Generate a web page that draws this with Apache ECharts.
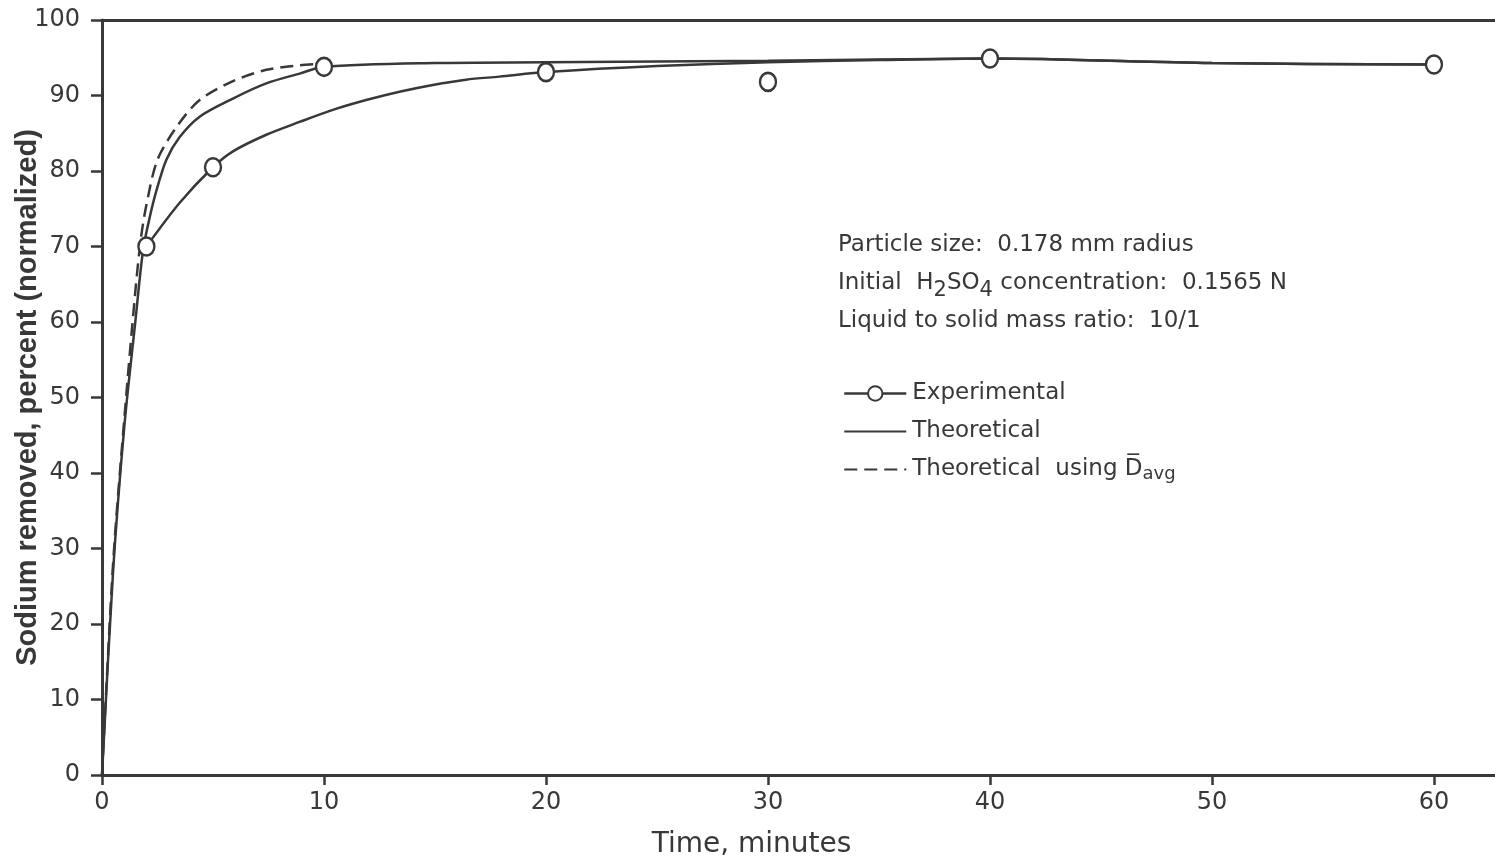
<!DOCTYPE html>
<html>
<head>
<meta charset="utf-8">
<script src="https://cdn.jsdelivr.net/npm/echarts@6/dist/echarts.min.js"></script>
<style>
html,body{margin:0;padding:0;background:#fff;}
#chart{width:1495px;height:861px;}
</style>
</head>
<body>
<div id="chart"></div>
<script>
// Experimental data points (time in minutes, sodium removed %)
const expTime = [2, 5, 10, 20, 30, 40, 60];
const expValue = [70, 80.5, 93.8, 93.1, 91.8, 94.9, 94.1];

// Curve drawn through the experimental data
const expFitTime = [2, 3.5, 5, 5.9, 7.4, 8.9, 10.4, 11.9, 13.4, 14.9, 16.4, 17.9, 20, 25, 30, 35, 40, 50, 60];
const expFitValue = [70, 75.8, 80.5, 82.6, 84.8, 86.5, 88.1, 89.4, 90.5, 91.4, 92.1, 92.5, 93.1, 93.9, 94.4, 94.7, 94.9, 94.3, 94.1];

// Theoretical curve
const theoTime = [0, 0.5, 1, 1.5, 1.85, 2.16, 2.46, 2.9, 3.5, 4.4, 5.9, 7.4, 8.9, 10, 15, 20, 30, 40, 50, 60];
const theoValue = [0, 27, 46, 60, 69.5, 74, 77.5, 81.5, 84.5, 87.2, 89.6, 91.6, 92.9, 93.8, 94.3, 94.4, 94.6, 94.9, 94.3, 94.1];

// Theoretical curve using D avg
const avgTime = [0, 0.5, 1, 1.5, 1.75, 2, 2.5, 3.4, 4.4, 5.9, 7.4, 8.9, 10];
const avgValue = [0, 28, 47, 64, 71, 75.5, 81.5, 86, 89.4, 91.9, 93.4, 94, 94.2];

// Axis ticks
const xTicks = [0, 10, 20, 30, 40, 50, 60];
const yTicks = [0, 10, 20, 30, 40, 50, 60, 70, 80, 90, 100];

const ink = '#383838';
const lettering = "'DejaVu Sans', sans-serif";

function pairs(xs, ys) { return xs.map((x, i) => [x, ys[i]]); }

const chart = echarts.init(document.getElementById('chart'), null, {renderer: 'canvas'});
chart.setOption({
  backgroundColor: '#ffffff',
  animation: false,
  grid: {left: 102, top: 20, right: 0, bottom: 86, containLabel: false, outerBoundsMode: 'none'},
  legend: {
    orient: 'vertical',
    left: 838,
    top: 377,
    itemWidth: 62,
    itemHeight: 18,
    itemGap: 15,
    selectedMode: false,
    textStyle: {
      color: ink, fontFamily: lettering, fontSize: 23, padding: [0, 0, 0, 1],
      rich: {
        o: {fontFamily: lettering, fontSize: 23, color: ink},
        s: {fontFamily: lettering, fontSize: 18, color: ink, padding: [10, 0, 0, 0]}
      }
    },
    data: [
      {name: 'Experimental', lineStyle: {opacity: 1, width: 2.5, color: ink}},
      {name: 'Theoretical', itemStyle: {opacity: 0}},
      {name: 'Theoretical  using {o|D\u0305}{s|avg}', itemStyle: {opacity: 0}}
    ]
  },
  xAxis: [{
    type: 'value',
    min: 0, max: 62.75, interval: 10,
    position: 'bottom',
    splitLine: {show: false},
    axisLine: {lineStyle: {color: ink, width: 3}},
    axisTick: {length: 10, lineStyle: {color: ink, width: 2.5}},
    axisLabel: {
      color: ink, fontFamily: lettering, fontSize: 24, margin: 16,
      showMaxLabel: false,
      formatter: v => xTicks.indexOf(v) >= 0 ? String(v) : ''
    },
    name: 'Time, minutes',
    nameLocation: 'middle',
    nameGap: 56,
    nameTextStyle: {color: ink, fontFamily: lettering, fontSize: 28, padding: [0, 94, 0, 0]}
  }, {
    type: 'value',
    min: 0, max: 62.75,
    position: 'top',
    splitLine: {show: false},
    axisLine: {show: true, lineStyle: {color: ink, width: 3}},
    axisTick: {show: false},
    axisLabel: {show: false}
  }],
  yAxis: {
    type: 'value',
    min: 0, max: 100, interval: 10,
    splitLine: {show: false},
    axisLine: {lineStyle: {color: ink, width: 3}},
    axisTick: {length: 11, lineStyle: {color: ink, width: 2.5}},
    axisLabel: {
      color: ink, fontFamily: lettering, fontSize: 24, margin: 22,
      formatter: v => yTicks.indexOf(v) >= 0 ? String(v) : ''
    },
    name: 'Sodium removed, percent (normalized)',
    nameLocation: 'middle',
    nameGap: 60,
    nameMoveOverlap: false,
    nameTextStyle: {color: ink, fontFamily: "'Liberation Sans', Arial, sans-serif", fontWeight: 'bold', fontSize: 29}
  },
  series: [
    {
      name: 'Theoretical',
      type: 'line',
      data: pairs(theoTime, theoValue),
      smooth: 0.3,
      showSymbol: false,
      symbol: 'none',
      lineStyle: {color: ink, width: 2.5},
      itemStyle: {color: ink},
      z: 2
    },
    {
      name: 'Theoretical  using {o|D\u0305}{s|avg}',
      type: 'line',
      data: pairs(avgTime, avgValue),
      smooth: 0.3,
      showSymbol: false,
      symbol: 'none',
      lineStyle: {color: ink, width: 2.5, type: [13, 7]},
      itemStyle: {color: ink},
      z: 2
    },
    {
      name: 'Experimental fit',
      type: 'line',
      data: pairs(expFitTime, expFitValue),
      smooth: 0.3,
      showSymbol: false,
      symbol: 'none',
      lineStyle: {color: ink, width: 2.5},
      itemStyle: {color: ink},
      z: 2
    },
    {
      name: 'Experimental',
      type: 'line',
      data: pairs(expTime, expValue),
      symbol: 'circle',
      symbolSize: [16, 18],
      showAllSymbol: true,
      lineStyle: {opacity: 0, width: 0, color: ink},
      itemStyle: {color: '#ffffff', borderColor: ink, borderWidth: 2.5},
      z: 5
    }
  ],
  graphic: [{
    type: 'group',
    left: 838,
    top: 234,
    children: [
      {type: 'text', x: 0, y: 0, style: {text: 'Particle size:  0.178 mm radius', fill: ink, font: "23px 'DejaVu Sans', sans-serif"}},
      {type: 'text', x: 0, y: 32, style: {
        text: 'Initial  H{sub|2}SO{sub|4} concentration:  0.1565 N',
        fill: ink, font: "23px 'DejaVu Sans', sans-serif",
        rich: {sub: {fontSize: 21, fontFamily: lettering, fill: ink, padding: [14, 0, 0, 0]}}
      }},
      {type: 'text', x: 0, y: 76, style: {text: 'Liquid to solid mass ratio:  10/1', fill: ink, font: "23px 'DejaVu Sans', sans-serif"}}
    ]
  }]
});
</script>
</body>
</html>
